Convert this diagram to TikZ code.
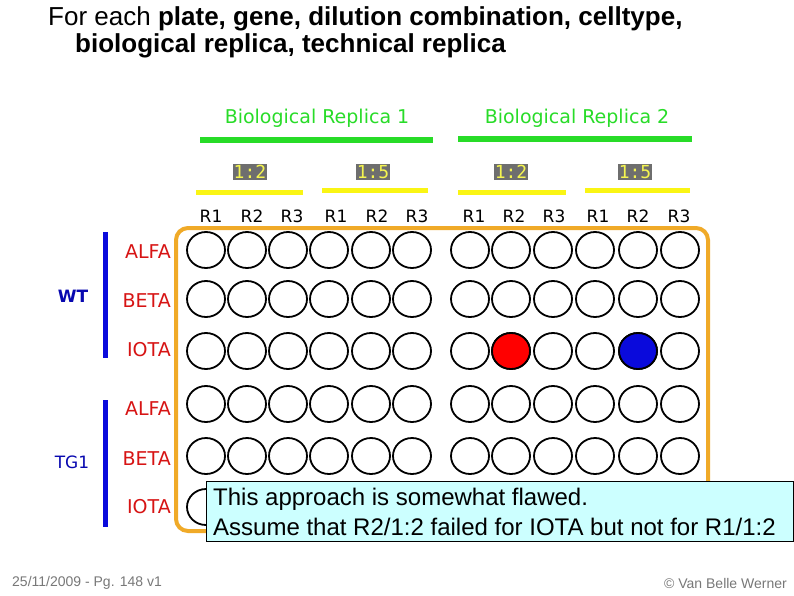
\documentclass[tikz,border=0pt]{standalone}
\usepackage{fontspec}
\setmainfont{Liberation Sans}
\newfontfamily\dejavu{DejaVu Sans}
\newfontfamily\dejavumono{DejaVu Sans Mono}
\definecolor{bioGreen}{RGB}{40,220,40}
\definecolor{dilYellow}{RGB}{250,245,20}
\definecolor{dilGrey}{RGB}{110,110,110}
\definecolor{dilText}{RGB}{245,245,80}
\definecolor{plateOrange}{RGB}{240,170,40}
\definecolor{geneRed}{RGB}{215,20,20}
\definecolor{cellBlue}{RGB}{10,10,220}
\definecolor{boxCyan}{RGB}{204,255,255}
\definecolor{footGrey}{RGB}{120,120,120}
\tikzset{
  well/.style={draw=black, line width=1.8pt, ellipse, minimum width=38pt, minimum height=36pt, inner sep=0pt},
  biolabel/.style={text=bioGreen, font=\dejavu\fontsize{19}{22}\selectfont, inner sep=0pt},
  biobar/.style={bioGreen, line width=6pt},
  dillabel/.style={fill=dilGrey, text=dilText, font=\dejavumono\fontsize{18}{20}\selectfont, inner sep=1pt},
  dilbar/.style={dilYellow, line width=5pt},
  replabel/.style={font=\dejavu\fontsize{17}{19}\selectfont, inner sep=0pt},
  genelabel/.style={text=geneRed, font=\dejavu\fontsize{19}{21}\selectfont, anchor=east, inner sep=0pt},
  cellbar/.style={cellBlue, line width=5pt},
  footer/.style={text=footGrey, font=\fontsize{14}{16}\selectfont, inner sep=0pt},
}
\usetikzlibrary{shapes.geometric}
\begin{document}
\begin{tikzpicture}[x=1pt,y=-1pt]
\useasboundingbox[fill=white] (0,0) rectangle (794,595);
% title
\node[anchor=west, inner sep=0pt, font=\fontsize{26}{30}\selectfont] (t1) at (48,19) {For each \textbf{plate, gene, dilution combination, celltype,}};
\node[anchor=west, inner sep=0pt, font=\fontsize{26}{30}\selectfont] (t2) at (75,46) {\textbf{biological replica, technical replica}};
% biological replica headers
\node[biolabel] (bio1) at (317,118) {Biological Replica 1};
\node[biolabel] (bio2) at (577,118) {Biological Replica 2};
\coordinate (b1a) at (200,140); \coordinate (b1b) at (433,140);
\coordinate (b2a) at (458,139); \coordinate (b2b) at (692,139);
\draw[biobar] (b1a) -- (b1b);
\draw[biobar] (b2a) -- (b2b);
% dilutions
\node[dillabel] (d1) at (250,172) {1:2};
\node[dillabel] (d2) at (373,172) {1:5};
\node[dillabel] (d3) at (511,172) {1:2};
\node[dillabel] (d4) at (635,172) {1:5};
\coordinate (y1a) at (196,192); \coordinate (y1b) at (303,192);
\coordinate (y2a) at (322,190); \coordinate (y2b) at (428,190);
\coordinate (y3a) at (458,192); \coordinate (y3b) at (566,192);
\coordinate (y4a) at (585,190); \coordinate (y4b) at (690,190);
\draw[dilbar] (y1a) -- (y1b);
\draw[dilbar] (y2a) -- (y2b);
\draw[dilbar] (y3a) -- (y3b);
\draw[dilbar] (y4a) -- (y4b);
% replica labels
\foreach \x/\t [count=\i] in {211/R1,252/R2,292/R3,336/R1,377/R2,417/R3,474/R1,514/R2,554/R3,598/R1,638/R2,679/R3}
  \node[replabel] (r\i) at (\x,216) {\t};
% plate
\node[draw=plateOrange, line width=4pt, rounded corners=12pt, minimum width=532pt, minimum height=303pt, inner sep=0pt] (plate) at (442,379.5) {};
% wells
\foreach \y [count=\r] in {250,299,351,404,456,507}
  \foreach \x [count=\c] in {206,247,288,329,371,412,470,511,553,595,638,680}
    \node[well] (w-\r-\c) at (\x,\y) {};
\node[well, fill=red] (redwell) at (511,351) {};
\node[well, fill=cellBlue] (bluewell) at (638,351) {};
% gene labels
\foreach \y/\g [count=\i] in {252/ALFA,301/BETA,350/IOTA,409/ALFA,459/BETA,507/IOTA}
  \node[genelabel] (g\i) at (171,\y) {\g};
% cell type bars
\coordinate (c1a) at (105,232); \coordinate (c1b) at (105,358);
\coordinate (c2a) at (105,400); \coordinate (c2b) at (105,527);
\draw[cellbar] (c1a) -- (c1b);
\draw[cellbar] (c2a) -- (c2b);
\node[text=cellBlue!80!black, font=\dejavu\bfseries\fontsize{17}{19}\selectfont, inner sep=0pt] (wt) at (73,296) {WT};
\node[text=cellBlue!80!black, font=\dejavu\fontsize{17}{19}\selectfont, inner sep=0pt] (tg1) at (72,462) {TG1};
% callout
\node[draw=black, line width=0.8pt, fill=boxCyan, anchor=north west, minimum width=587pt, minimum height=60pt, inner sep=0pt] (box) at (206,481) {};
\node[anchor=west, inner sep=0pt, font=\fontsize{24}{28}\selectfont] (bt1) at (213,499) {This approach is somewhat flawed.};
\node[anchor=west, inner sep=0pt, font=\fontsize{24}{28}\selectfont] (bt2) at (213,527) {Assume that R2/1:2 failed for IOTA but not for R1/1:2};
% footer
\node[footer, anchor=west] (f1) at (12,583) {25/11/2009 - Pg. 148 v1};
\node[footer, anchor=east] (f2) at (787,583) {© Van Belle Werner};
\end{tikzpicture}
\end{document}
